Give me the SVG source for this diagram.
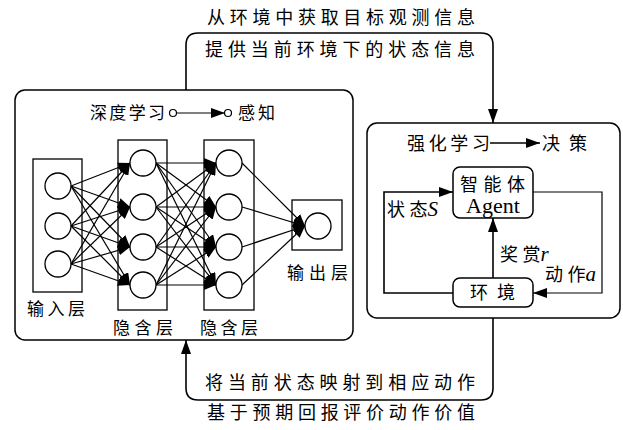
<svg xmlns="http://www.w3.org/2000/svg" width="623" height="430" viewBox="0 0 623 430">
<style>
.t{font-family:"Liberation Serif","Noto Sans CJK SC",serif;font-size:18px;fill:#000}
.s{font-size:17px}
.i{font-style:italic;font-size:21px}
.box{fill:none;stroke:#000;stroke-width:1.5}
.nb{fill:#fff;stroke:#000;stroke-width:1.3}
.c{fill:#fff;stroke:#000;stroke-width:1.3}
.l{fill:none;stroke:#000;stroke-width:1.2}
.w{fill:none;stroke:#000;stroke-width:1.6}
</style>
<defs>
<marker id="ah" markerUnits="userSpaceOnUse" markerWidth="12" markerHeight="10" refX="12" refY="5" orient="auto" viewBox="0 0 12 10">
<path d="M0,0 L12,5 L0,10 z" fill="#000"/>
</marker>
<marker id="am" markerUnits="userSpaceOnUse" markerWidth="14" markerHeight="10" refX="14" refY="5" orient="auto" viewBox="0 0 14 10">
<path d="M0,0 L14,5 L0,10 z" fill="#000"/>
</marker>
</defs>
<rect width="623" height="430" fill="#fff"/>

<g id="dl-panel">
<rect class="box" x="15" y="90" width="338" height="250" rx="10"/>
<text class="t s" x="90" y="119" textLength="75" lengthAdjust="spacing">深度学习</text>
<circle cx="173" cy="113" r="3.5" fill="#fff" stroke="#000" stroke-width="1.2"/>
<line class="l" x1="176.5" y1="113" x2="225" y2="113" marker-end="url(#am)"/>
<circle cx="228" cy="113" r="3.5" fill="#fff" stroke="#000" stroke-width="1.2"/>
<text class="t s" x="238" y="119" textLength="37" lengthAdjust="spacing">感知</text>
</g>

<g id="input-layer">
<rect class="nb" x="33" y="159" width="49" height="133"/>
<circle class="c" cx="58" cy="186" r="13"/>
<circle class="c" cx="58" cy="226" r="13"/>
<circle class="c" cx="58" cy="264" r="13"/>
<text class="t s" x="27" y="315" textLength="58" lengthAdjust="spacing">输入层</text>
</g>

<g id="hidden1">
<rect class="nb" x="118" y="140" width="49" height="170"/>
<text class="t s" x="113" y="334" textLength="60" lengthAdjust="spacing">隐含层</text>
</g>
<g id="hidden2">
<rect class="nb" x="204" y="140" width="50" height="170"/>
<text class="t s" x="200" y="334" textLength="58" lengthAdjust="spacing">隐含层</text>
</g>
<g id="output-layer">
<rect class="nb" x="292" y="200" width="50" height="50"/>
<text class="t s" x="287" y="279" textLength="61" lengthAdjust="spacing">输出层</text>
</g>

<g id="connectors">
<g class="l">
<line x1="71" y1="186" x2="130" y2="163" marker-end="url(#ah)"/>
<line x1="71" y1="186" x2="130" y2="207" marker-end="url(#ah)"/>
<line x1="71" y1="186" x2="130" y2="247" marker-end="url(#ah)"/>
<line x1="71" y1="186" x2="130" y2="285" marker-end="url(#ah)"/>
<line x1="71" y1="226" x2="130" y2="163" marker-end="url(#ah)"/>
<line x1="71" y1="226" x2="130" y2="207" marker-end="url(#ah)"/>
<line x1="71" y1="226" x2="130" y2="247" marker-end="url(#ah)"/>
<line x1="71" y1="226" x2="130" y2="285" marker-end="url(#ah)"/>
<line x1="71" y1="264" x2="130" y2="163" marker-end="url(#ah)"/>
<line x1="71" y1="264" x2="130" y2="207" marker-end="url(#ah)"/>
<line x1="71" y1="264" x2="130" y2="247" marker-end="url(#ah)"/>
<line x1="71" y1="264" x2="130" y2="285" marker-end="url(#ah)"/>
</g>
<g class="l">
<line x1="156" y1="163" x2="216" y2="163" marker-end="url(#ah)"/>
<line x1="156" y1="163" x2="216" y2="207" marker-end="url(#ah)"/>
<line x1="156" y1="163" x2="216" y2="247" marker-end="url(#ah)"/>
<line x1="156" y1="163" x2="216" y2="285" marker-end="url(#ah)"/>
<line x1="156" y1="207" x2="216" y2="163" marker-end="url(#ah)"/>
<line x1="156" y1="207" x2="216" y2="207" marker-end="url(#ah)"/>
<line x1="156" y1="207" x2="216" y2="247" marker-end="url(#ah)"/>
<line x1="156" y1="207" x2="216" y2="285" marker-end="url(#ah)"/>
<line x1="156" y1="247" x2="216" y2="163" marker-end="url(#ah)"/>
<line x1="156" y1="247" x2="216" y2="207" marker-end="url(#ah)"/>
<line x1="156" y1="247" x2="216" y2="247" marker-end="url(#ah)"/>
<line x1="156" y1="247" x2="216" y2="285" marker-end="url(#ah)"/>
<line x1="156" y1="285" x2="216" y2="163" marker-end="url(#ah)"/>
<line x1="156" y1="285" x2="216" y2="207" marker-end="url(#ah)"/>
<line x1="156" y1="285" x2="216" y2="247" marker-end="url(#ah)"/>
<line x1="156" y1="285" x2="216" y2="285" marker-end="url(#ah)"/>
</g>
<g class="l">
<line x1="242" y1="163" x2="305" y2="226" marker-end="url(#ah)"/>
<line x1="242" y1="207" x2="305" y2="226" marker-end="url(#ah)"/>
<line x1="242" y1="247" x2="305" y2="226" marker-end="url(#ah)"/>
<line x1="242" y1="285" x2="305" y2="226" marker-end="url(#ah)"/>
</g>
<path class="w" d="M186,90 V45 Q186,33 198,33 H481 Q493,33 493,45 V123" marker-end="url(#am)"/>
<path class="w" d="M493,318 V388 Q493,400 481,400 H198 Q186,400 186,388 V340" marker-end="url(#am)"/>
<path class="w" d="M453,293 H384 V192 H453" marker-end="url(#am)"/>
<path class="l" d="M533,192 H602 V293 H533" marker-end="url(#am)"/>
<line class="w" x1="493" y1="278" x2="493" y2="218" marker-end="url(#am)"/>
</g>

<g id="hidden1-nodes">
<circle class="c" cx="143" cy="163" r="13"/>
<circle class="c" cx="143" cy="207" r="13"/>
<circle class="c" cx="143" cy="247" r="13"/>
<circle class="c" cx="143" cy="285" r="13"/>
</g>
<g id="hidden2-nodes">
<circle class="c" cx="229" cy="163" r="13"/>
<circle class="c" cx="229" cy="207" r="13"/>
<circle class="c" cx="229" cy="247" r="13"/>
<circle class="c" cx="229" cy="285" r="13"/>
</g>
<g id="output-node">
<circle class="c" cx="318" cy="226" r="13"/>
</g>

<g id="rl-panel">
<rect class="box" x="367" y="123" width="253" height="195" rx="10"/>
<text class="t" x="407" y="150" textLength="83" lengthAdjust="spacing">强化学习</text>
<line class="w" x1="490" y1="143" x2="540" y2="143" marker-end="url(#am)"/>
<text class="t" x="542" y="150" textLength="45" lengthAdjust="spacing">决策</text>
</g>

<g id="agent">
<rect class="box" x="453" y="167" width="80" height="51" rx="7" fill="#fff"/>
<text class="t" x="460" y="191" textLength="65" lengthAdjust="spacing">智能体</text>
<text class="t" x="493" y="213" text-anchor="middle" style="font-size:22px">Agent</text>
</g>

<g id="env">
<rect class="box" x="453" y="278" width="80" height="29" rx="7" fill="#fff"/>
<text class="t" x="470" y="299" textLength="45" lengthAdjust="spacing">环境</text>
</g>

<g id="labels">
<text class="t" x="387" y="216">状 态<tspan class="i">S</tspan></text>
<text class="t" x="500" y="261">奖 赏<tspan class="i">r</tspan></text>
<text class="t" x="545" y="281">动 作<tspan class="i">a</tspan></text>
<text class="t" x="207" y="24" textLength="268" lengthAdjust="spacing">从环境中获取目标观测信息</text>
<text class="t" x="205" y="56" textLength="270" lengthAdjust="spacing">提供当前环境下的状态信息</text>
<text class="t" x="205" y="389" textLength="270" lengthAdjust="spacing">将当前状态映射到相应动作</text>
<text class="t" x="207" y="419" textLength="268" lengthAdjust="spacing">基于预期回报评价动作价值</text>
</g>
</svg>
